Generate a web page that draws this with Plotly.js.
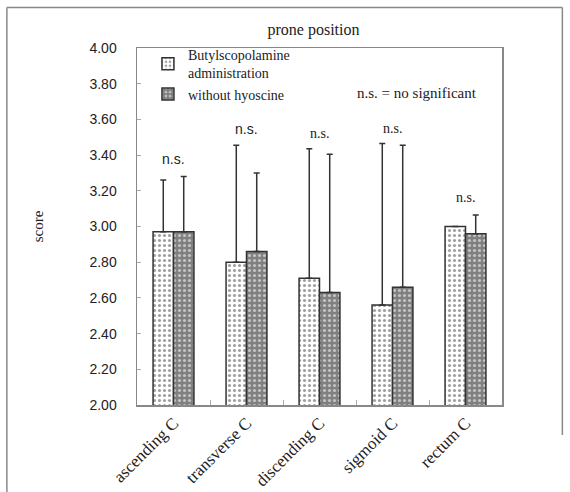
<!DOCTYPE html>
<html><head><meta charset="utf-8">
<script src="https://cdn.plot.ly/plotly-3.0.1.min.js"></script>
<style>html,body{margin:0;padding:0;background:#fff}#chart{width:570px;height:492px}</style>
</head><body><div id="chart"></div>
<script>
const categories = ["ascending C", "transverse C", "discending C", "sigmoid C", "rectum C"];
const butylValues = [2.97, 2.80, 2.71, 2.56, 3.00];
const butylErrors = [0.29, 0.655, 0.725, 0.905, 0];
const withoutValues = [2.97, 2.86, 2.63, 2.66, 2.96];
const withoutErrors = [0.31, 0.44, 0.775, 0.795, 0.105];
const nsLabelY = [3.38, 3.545, 3.52, 3.55, 3.165];
const seriesNames = ["Butylscopolamine<br>administration", "without hyoscine"];
const yTicks = [2.0, 2.2, 2.4, 2.6, 2.8, 3.0, 3.2, 3.4, 3.6, 3.8, 4.0];

const serif = "Liberation Serif, Times New Roman, serif";
const sans = "Liberation Sans, Arial, sans-serif";

const trace1 = {
  type: "bar", x: categories, y: butylValues, name: seriesNames[0],
  marker: {color: "#ffffff", line: {color: "#333", width: 1.5},
    pattern: {shape: ".", fgcolor: "#a0a0a0", bgcolor: "#ffffff", size: 5, solidity: 0.3}},
  error_y: {type: "data", array: butylErrors, arrayminus: butylErrors.map(() => 0), symmetric: false,
    visible: true, color: "#333", thickness: 1.5, width: 3}
};
const trace2 = {
  type: "bar", x: categories, y: withoutValues, name: seriesNames[1],
  marker: {color: "#808080", line: {color: "#333", width: 1.5},
    pattern: {shape: ".", fgcolor: "#c4c4c4", bgcolor: "#808080", size: 5, solidity: 0.3}},
  error_y: {type: "data", array: withoutErrors, arrayminus: withoutErrors.map(() => 0), symmetric: false,
    visible: true, color: "#333", thickness: 1.5, width: 3}
};

const annotations = categories.map((c, i) => ({
  x: c, y: nsLabelY[i], xref: "x", yref: "y", text: "n.s.", showarrow: false,
  xanchor: "center", yanchor: "middle",
  font: {family: i < 2 ? sans : serif, size: 14, color: "#222"}
}));
annotations.push({x: 0.768, y: 0.875, xref: "paper", yref: "paper", xanchor: "center", yanchor: "middle",
  text: "n.s. = no significant", showarrow: false, font: {family: serif, size: 15, color: "#222"}});

const frameColor = "#888";
const shapes = [
  {type: "line", xref: "paper", yref: "paper", x0: -0.3565, x1: 1.1654, y0: 1.1133, y1: 1.1133, line: {color: frameColor, width: 1.5}},
  {type: "line", xref: "paper", yref: "paper", x0: -0.3565, x1: -0.3565, y0: 1.1133, y1: -0.26, line: {color: frameColor, width: 1.5}},
  {type: "line", xref: "paper", yref: "paper", x0: 1.1654, x1: 1.1654, y0: 1.1133, y1: -0.084, line: {color: frameColor, width: 1.5}}
];

const layout = {
  width: 570, height: 492,
  margin: {l: 137, r: 68, t: 47.5, b: 87, pad: 0},
  paper_bgcolor: "#fff", plot_bgcolor: "#fff",
  title: {text: "prone position", font: {family: serif, size: 16, color: "#222"}, x: 0.55, xanchor: "center", y: 0.94, yanchor: "middle"},
  barmode: "group", bargap: 0.44, bargroupgap: 0,
  showlegend: true,
  legend: {x: 0.03, y: 1.025, xanchor: "left", yanchor: "top", bgcolor: "rgba(0,0,0,0)",
    font: {family: serif, size: 14, color: "#222"}, tracegroupgap: 0, itemwidth: 30},
  xaxis: {type: "category", showline: true, linecolor: frameColor, linewidth: 1.5, mirror: true,
    ticks: "inside", tickson: "boundaries", ticklen: 5, tickcolor: "#aaa",
    tickangle: -45, tickfont: {family: serif, size: 17, color: "#222"}, showgrid: false},
  yaxis: {range: [2, 4], tickvals: yTicks, ticktext: yTicks.map(v => v.toFixed(2)),
    showline: true, linecolor: frameColor, linewidth: 1.5, mirror: true,
    ticks: "inside", ticklen: 4, tickcolor: "#aaa", showgrid: false, zeroline: false,
    tickfont: {family: sans, size: 14, color: "#222"}, ticklabelstandoff: 16,
    title: {text: "score", font: {family: serif, size: 15, color: "#222"}, standoff: 42}},
  annotations: annotations,
  shapes: shapes
};

Plotly.newPlot("chart", [trace1, trace2], layout, {displayModeBar: false, staticPlot: true});
</script></body></html>
